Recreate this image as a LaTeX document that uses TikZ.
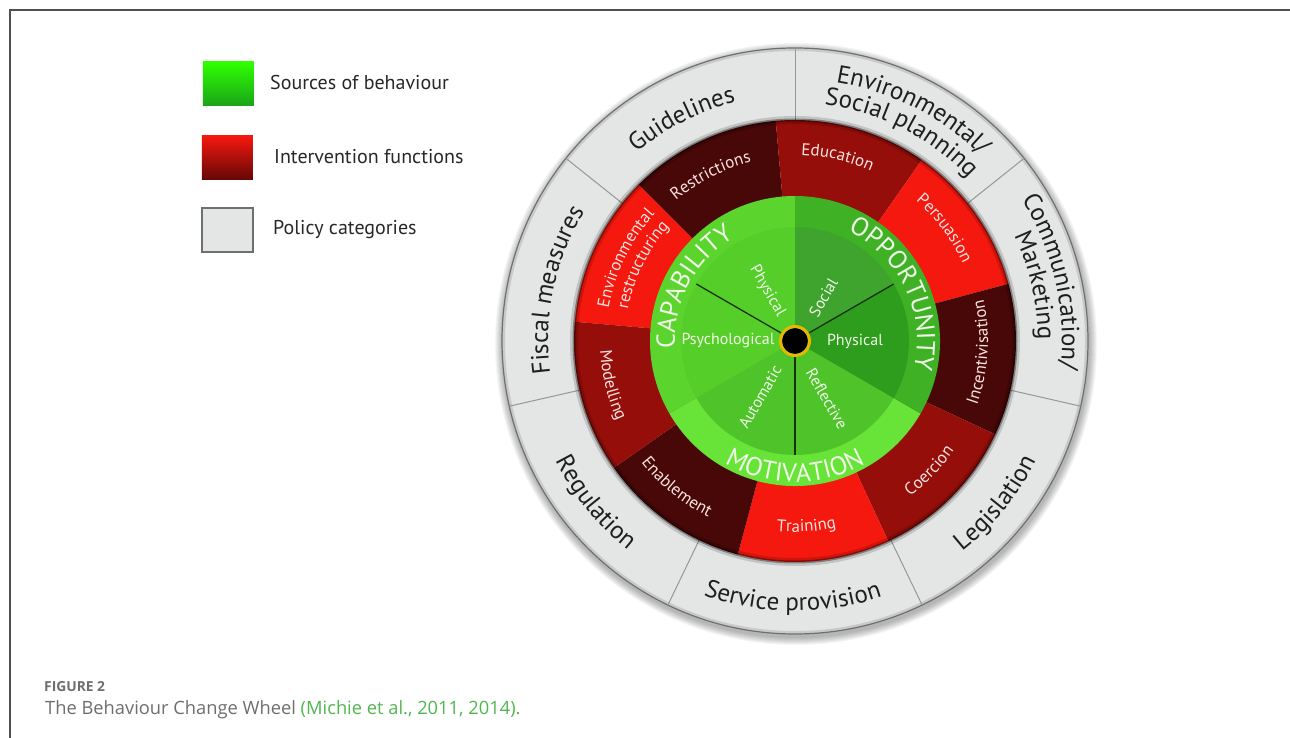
\documentclass[tikz,border=0pt]{standalone}
\usepackage{fontspec}
\setmainfont{PT Sans}
\newfontfamily\captionfont{Open Sans}
\usetikzlibrary{decorations.text}

\definecolor{polfill}{RGB}{228,230,230}
\definecolor{polline}{RGB}{150,152,152}
\definecolor{polrim}{RGB}{110,112,112}
\definecolor{poltext}{RGB}{30,30,30}
\definecolor{redhi}{RGB}{245,24,14}
\definecolor{redmid}{RGB}{150,14,10}
\definecolor{redlo}{RGB}{72,8,8}
\definecolor{redtext}{RGB}{248,226,222}
\definecolor{capring}{RGB}{92,212,46}
\definecolor{capin}{RGB}{86,206,42}
\definecolor{oppring}{RGB}{62,178,36}
\definecolor{oppin}{RGB}{46,156,28}
\definecolor{motring}{RGB}{104,228,56}
\definecolor{motin}{RGB}{78,196,42}
\definecolor{greenline}{RGB}{24,50,16}
\definecolor{greentext}{RGB}{240,250,232}
\definecolor{dotring}{RGB}{230,184,0}
\definecolor{legtext}{RGB}{40,40,40}
\definecolor{capgray}{RGB}{110,110,110}
\definecolor{citegreen}{RGB}{80,182,80}
\definecolor{framegray}{RGB}{80,80,80}

\begin{document}
\begin{tikzpicture}[x=1pt,y=1pt,
  poltxt/.style={decorate, decoration={text along path, text align=center,
    text={|\color{poltext}\fontsize{25}{25}\selectfont|#1}}},
  redtxt/.style={decorate, decoration={text along path, text align=center,
    text={|\color{redtext}\fontsize{17}{17}\selectfont|#1}}},
  srctxt/.style={decorate, decoration={text along path, text align=center,
    text={|\color{greentext}\fontsize{26}{26}\selectfont|#1}}},
  inlab/.style={text=greentext, font=\fontsize{16}{16}\selectfont, inner sep=0pt},
  legbox/.style={minimum width=51pt, minimum height=44pt, inner sep=0pt},
  legtxt/.style={anchor=base west, inner sep=0pt, text=legtext, font=\fontsize{20}{20}\selectfont}]
\useasboundingbox[fill=white] (-795,-397) rectangle (495,341);
\draw[framegray, line width=1.5] (-785,-397) -- (-785,331) -- (495,331);

\node[legbox, top color=green!75!lime, bottom color=green!60!black!90] (srcbox) at (-566.5,257) {};
\node[legbox, top color=redhi, bottom color=redlo!85!red] (ifbox) at (-567.5,183) {};
\node[legbox, fill=polfill, draw=polrim, line width=1.5] (polbox) at (-567.5,111) {};
\node[legtxt] (srclab) at (-525,251) {Sources of behaviour};
\node[legtxt] (iflab) at (-521,177) {Intervention functions};
\node[legtxt] (pollab) at (-522,106) {Policy categories};

\foreach \k in {1,...,8} \fill[black, opacity=0.04] (1,-3) circle (293+\k);
\fill[polfill] (0,0) circle (293);
\draw[black, opacity=0.12, line width=3] (0,0) circle (291.5);
\draw[polrim, line width=1.2] (0,0) circle (293);
\draw[polline, line width=1] (90:221) -- (90:293);
\draw[polline, line width=1] (141.43:221) -- (141.43:293);
\draw[polline, line width=1] (192.86:221) -- (192.86:293);
\draw[polline, line width=1] (244.29:221) -- (244.29:293);
\draw[polline, line width=1] (295.71:221) -- (295.71:293);
\draw[polline, line width=1] (347.14:221) -- (347.14:293);
\draw[polline, line width=1] (38.57:221) -- (38.57:293);

\fill[redhi] (0,0) -- (135:221) arc[start angle=135, end angle=175, radius=221] -- cycle;
\fill[redlo] (0,0) -- (95:221) arc[start angle=95, end angle=135, radius=221] -- cycle;
\fill[redmid] (0,0) -- (55:221) arc[start angle=55, end angle=95, radius=221] -- cycle;
\fill[redhi] (0,0) -- (15:221) arc[start angle=15, end angle=55, radius=221] -- cycle;
\fill[redlo] (0,0) -- (-25:221) arc[start angle=-25, end angle=15, radius=221] -- cycle;
\fill[redmid] (0,0) -- (295:221) arc[start angle=295, end angle=335, radius=221] -- cycle;
\fill[redhi] (0,0) -- (255:221) arc[start angle=255, end angle=295, radius=221] -- cycle;
\fill[redlo] (0,0) -- (215:221) arc[start angle=215, end angle=255, radius=221] -- cycle;
\fill[redmid] (0,0) -- (175:221) arc[start angle=175, end angle=215, radius=221] -- cycle;
\draw[black, opacity=0.15, line width=8] (0,0) circle (221);
\draw[black, opacity=0.35, line width=3] (0,0) circle (221);

\fill[capring] (0,0) -- (90:145) arc[start angle=90, end angle=210, radius=145] -- cycle;
\fill[motring] (0,0) -- (210:145) arc[start angle=210, end angle=330, radius=145] -- cycle;
\fill[oppring] (0,0) -- (-30:145) arc[start angle=-30, end angle=90, radius=145] -- cycle;
\fill[capin] (0,0) -- (90:114) arc[start angle=90, end angle=210, radius=114] -- cycle;
\fill[motin] (0,0) -- (210:114) arc[start angle=210, end angle=330, radius=114] -- cycle;
\fill[oppin!92!white] (0,0) -- (30:114) arc[start angle=30, end angle=90, radius=114] -- cycle;
\fill[oppin] (0,0) -- (-30:114) arc[start angle=-30, end angle=30, radius=114] -- cycle;
\draw[greenline, line width=1.3] (0,0) -- (150:114);
\draw[greenline, line width=1.3] (0,0) -- (30:114);
\draw[greenline, line width=1.3] (0,0) -- (270:114);
\fill[black] (0,0) circle (13);
\draw[dotring, line width=3] (0,0) circle (14.5);

\path[poltxt={Environmental/}] (100:262) arc[start angle=100, end angle=26, radius=262];
\path[poltxt={Social planning}] (100:238) arc[start angle=100, end angle=26, radius=238];
\path[poltxt={Guidelines}] (152:246) arc[start angle=152, end angle=82, radius=246];
\path[poltxt={Fiscal measures}] (205:247) arc[start angle=205, end angle=131, radius=247];
\path[poltxt={Communication/}] (50:267) arc[start angle=50, end angle=-24, radius=267];
\path[poltxt={Marketing}] (48:243) arc[start angle=48, end angle=-22, radius=243];
\path[poltxt={Regulation}] (184:268) arc[start angle=184, end angle=254, radius=268];
\path[poltxt={Service provision}] (232.5:270) arc[start angle=232.5, end angle=306.5, radius=270];
\path[poltxt={Legislation}] (286:269) arc[start angle=286, end angle=356, radius=269];

\path[redtxt={Restrictions}] (152:184) arc[start angle=152, end angle=82, radius=184];
\path[redtxt={Education}] (112:186) arc[start angle=112, end angle=42, radius=186];
\path[redtxt={Persuasion}] (72:185) arc[start angle=72, end angle=2, radius=185];
\path[redtxt={Environmental}] (189:189) arc[start angle=189, end angle=119, radius=189];
\path[redtxt={restructuring}] (188.5:170) arc[start angle=188.5, end angle=118.5, radius=170];
\path[redtxt={Incentivisation}] (321.5:193) arc[start angle=321.5, end angle=391.5, radius=193];
\path[redtxt={Coercion}] (281:193) arc[start angle=281, end angle=351, radius=193];
\path[redtxt={Training}] (238.5:191) arc[start angle=238.5, end angle=308.5, radius=191];
\path[redtxt={Enablement}] (196:196) arc[start angle=196, end angle=266, radius=196];
\path[redtxt={Modelling}] (158.5:195) arc[start angle=158.5, end angle=228.5, radius=195];

\path[srctxt={CAPABILITY}] (212:120) arc[start angle=212, end angle=92, radius=120];
\path[srctxt={OPPORTUNITY}] (85.5:122) arc[start angle=85.5, end angle=-34.5, radius=122];
\path[srctxt={MOTIVATION}] (210:141) arc[start angle=210, end angle=330, radius=141];

\node[inlab, rotate=-60] (capphys) at (119:57) {Physical};
\node[inlab] (cappsych) at (180:67) {Psychological};
\node[inlab, rotate=60] (oppsoc) at (57:52) {Social};
\node[inlab] (oppphys) at (0:60) {Physical};
\node[inlab, rotate=-60] (motrefl) at (299:66) {Reflective};
\node[inlab, rotate=60] (motauto) at (238:66) {Automatic};

\node[anchor=base west, inner sep=0pt, text=capgray, font=\captionfont\bfseries\fontsize{13.8}{13.8}\selectfont] (figlab) at (-751,-350) {FIGURE 2};
\node[anchor=base west, inner sep=0pt, text=capgray, font=\captionfont\fontsize{18.3}{18.3}\selectfont] (caption) at (-750,-373) {The Behaviour Change Wheel \textcolor{citegreen}{(Michie et al., 2011, 2014).}};
\end{tikzpicture}
\end{document}
